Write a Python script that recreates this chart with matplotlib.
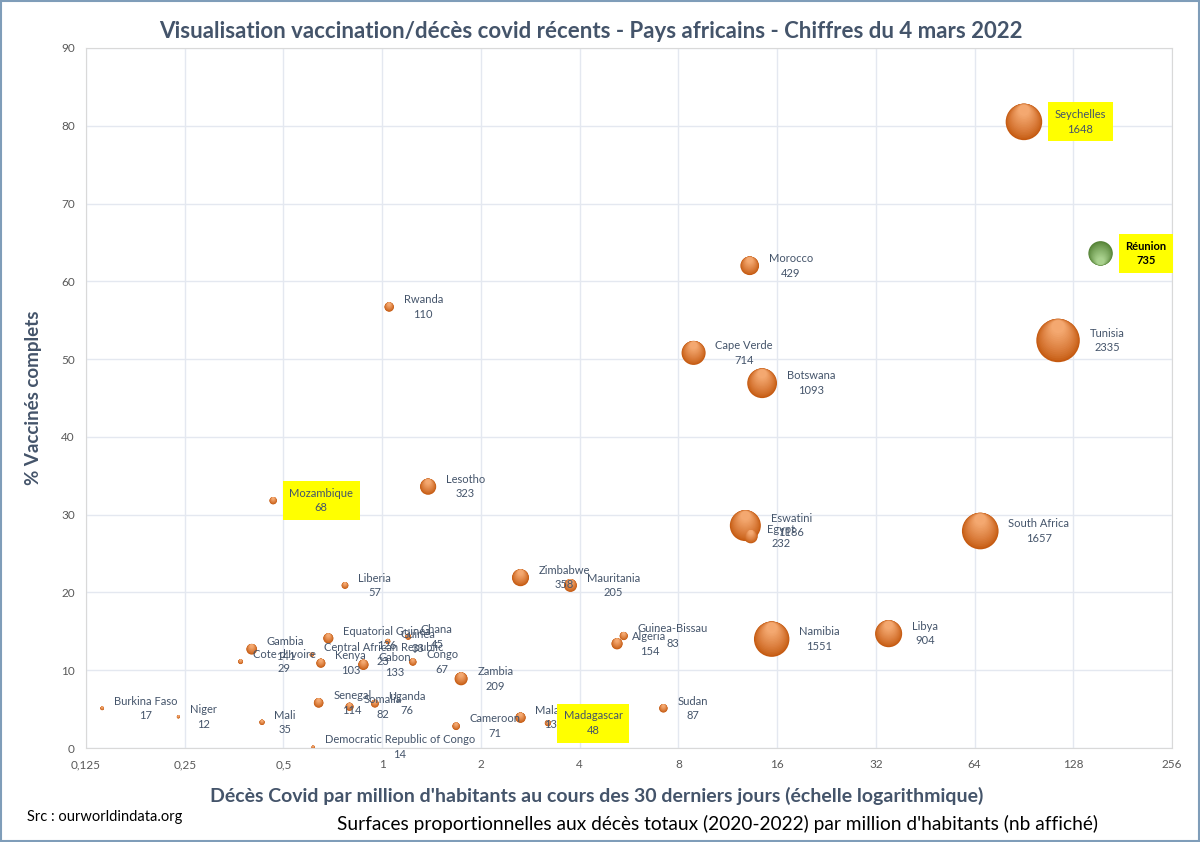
import numpy as np
from matplotlib import pyplot as plt
from matplotlib import transforms
from matplotlib.patches import Rectangle
from matplotlib.ticker import FixedLocator, FixedFormatter, NullLocator

# données
pays = ['Seychelles', 'Réunion', 'Morocco', 'Rwanda', 'Tunisia', 'Cape Verde', 'Botswana',
        'Lesotho', 'Mozambique', 'Eswatini', 'Egypt', 'South Africa', 'Zimbabwe', 'Mauritania',
        'Liberia', 'Guinea-Bissau', 'Algeria', 'Namibia', 'Libya', 'Equatorial Guinea', 'Guinea',
        'Ghana', 'Gambia', "Cote d'Ivoire", 'Central African Republic', 'Kenya', 'Gabon', 'Congo',
        'Zambia', 'Sudan', 'Senegal', 'Somalia', 'Uganda', 'Burkina Faso', 'Niger', 'Mali',
        'Cameroon', 'Malawi', 'Madagascar', 'Democratic Republic of Congo']
deces_30j = [90.5, 155, 13.2, 1.05, 115, 8.9, 14.4,
             1.38, 0.465, 12.8, 13.3, 66.6, 2.64, 3.75,
             0.77, 5.45, 5.2, 15.4, 35, 0.685, 1.04,
             1.20, 0.40, 0.37, 0.61, 0.65, 0.876, 1.24,
             1.74, 7.2, 0.64, 0.795, 0.95, 0.14, 0.239, 0.43,
             1.68, 2.64, 3.2, 0.616]
vaccines = [80.5, 63.6, 62.0, 56.7, 52.4, 50.8, 46.9,
            33.6, 31.8, 28.6, 27.2, 27.9, 21.9, 20.9,
            20.9, 14.4, 13.4, 14.0, 14.7, 14.1, 13.7,
            14.3, 12.7, 11.1, 12.0, 10.9, 10.7, 11.05,
            8.9, 5.1, 5.8, 5.3, 5.7, 5.1, 4.0, 3.3,
            2.8, 3.9, 3.2, 0.1]
deces_totaux = [1648, 735, 429, 110, 2335, 714, 1093,
                323, 68, 1186, 232, 1657, 358, 205,
                57, 83, 154, 1551, 904, 126, 33,
                45, 141, 29, 23, 103, 133, 67,
                209, 87, 114, 82, 76, 17, 12, 35,
                71, 133, 48, 14]
surlignes = ['Seychelles', 'Réunion', 'Mozambique', 'Madagascar']

xticks = [0.125, 0.25, 0.5, 1, 2, 4, 8, 16, 32, 64, 128, 256]
xticklabels = ['0,125', '0,25', '0,5', '1', '2', '4', '8', '16', '32', '64', '128', '256']

plt.rcParams['font.family'] = ['Lato', 'DejaVu Sans']
bleu = '#44546A'

fig = plt.figure(figsize=(12, 8.42), dpi=100)
ax = fig.add_axes([0.0717, 0.1116, 0.905, 0.8314])
ax.set_xscale('log', base=2)
ax.set_xlim(0.125, 256)
ax.set_ylim(0, 90)

# bulles avec un dégradé (clair en haut, foncé en bas)
def degrade(c1, c2, t):
    c1 = np.array([int(c1[i:i + 2], 16) for i in (1, 3, 5)]) / 255
    c2 = np.array([int(c2[i:i + 2], 16) for i in (1, 3, 5)]) / 255
    return tuple(c1 + (c2 - c1) * t)

for nom, x, y, d in zip(pays, deces_30j, vaccines, deces_totaux):
    s = 0.42 * d
    r = np.sqrt(s) / 2
    if nom == 'Réunion':
        bas, haut = '#548235', '#A9D18E'
        sens = -1
    else:
        bas, haut = '#C55A11', '#F4A870'
        sens = 1
    n = 16
    for k in range(n):
        t = k / (n - 1)
        f = 1 - 0.7 * t
        tr = transforms.offset_copy(ax.transData, fig=fig, x=0, y=sens * (1 - f) * r * 0.9, units='points')
        ax.scatter([x], [y], s=s * f ** 2, color=degrade(bas, haut, t ** 0.8), edgecolors='none',
                   transform=tr, zorder=3 + k * 0.01)

    if nom in surlignes:
        poids = 'bold' if nom == 'Réunion' else 'normal'
        coul = 'black' if nom == 'Réunion' else bleu
        ax.annotate(f'{nom}\n{d}', (x, y), xytext=(r + 9, 0), textcoords='offset points',
                    ha='left', va='center', multialignment='center', fontsize=8,
                    linespacing=1.4, color=coul, weight=poids, zorder=5,
                    bbox=dict(boxstyle='square,pad=0.6', fc='#FFFF00', ec='none'))
    else:
        ax.annotate(f'{nom}\n{d}', (x, y), xytext=(r + 7, 0), textcoords='offset points',
                    ha='left', va='center', multialignment='center', fontsize=8,
                    linespacing=1.4, color=bleu, zorder=5)

ax.xaxis.set_major_locator(FixedLocator(xticks))
ax.xaxis.set_major_formatter(FixedFormatter(xticklabels))
ax.xaxis.set_minor_locator(NullLocator())
ax.set_yticks(range(0, 91, 10))
ax.tick_params(length=0, labelsize=8.5, labelcolor='#595959', pad=8)
ax.grid(True, color='#E4E8F0', linewidth=1)
ax.set_axisbelow(True)
for sp in ax.spines.values():
    sp.set_color('#D9D9D9')

ax.set_xlabel("Décès Covid par million d'habitants au cours des 30 derniers jours (échelle logarithmique)",
              fontsize=14, weight='bold', color=bleu)
ax.xaxis.set_label_coords(0.47, -0.056)
ax.set_ylabel('% Vaccinés complets', fontsize=13.5, weight='bold', color=bleu, labelpad=14)
fig.text(0.492, 0.962, 'Visualisation vaccination/décès covid récents - Pays africains - Chiffres du 4 mars 2022',
         ha='center', va='center', fontsize=16, weight='bold', color=bleu)
fig.text(0.0225, 0.03, 'Src : ourworldindata.org', fontsize=10.5, color='black', va='center')
fig.text(0.598, 0.022, "Surfaces proportionnelles aux décès totaux (2020-2022) par million d'habitants (nb affiché)",
         fontsize=13.8, color='black', ha='center', va='center')

fig.patches.append(Rectangle((0.001, 0.001), 0.998, 0.998, transform=fig.transFigure,
                             fill=False, ec='#7F9DB9', lw=1.5))

plt.savefig('out.png', dpi=100)
